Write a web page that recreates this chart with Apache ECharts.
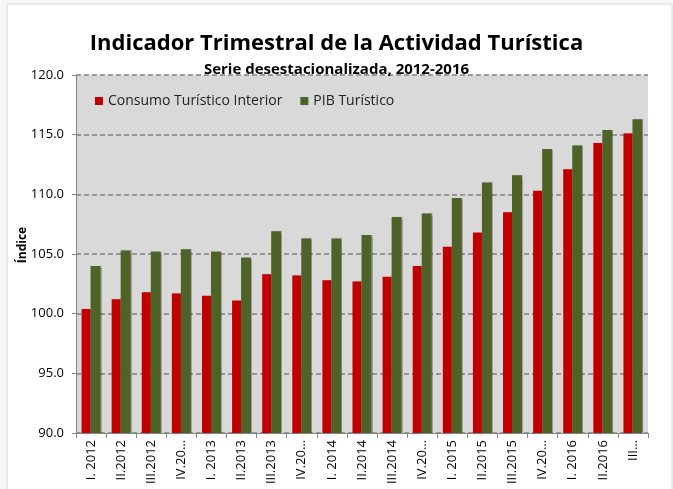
<!DOCTYPE html>
<html>
<head>
<meta charset="utf-8">
<script src="https://cdn.jsdelivr.net/npm/echarts@6/dist/echarts.min.js"></script>
<style>
html,body{margin:0;padding:0;background:#f7f7f7;}
#c{width:673px;height:489px;}
</style>
</head>
<body>
<div id="c"></div>
<script>
const categories = ["I. 2012","II.2012","III.2012","IV.20…","I. 2013","II.2013","III.2013","IV.20…","I. 2014","II.2014","III.2014","IV.20…","I. 2015","II.2015","III.2015","IV.20…","I. 2016","II.2016","III…"];
const consumo = [100.4,101.2,101.8,101.7,101.5,101.1,103.3,103.2,102.8,102.7,103.1,104.0,105.6,106.8,108.5,110.3,112.1,114.3,115.1];
const pib = [104.0,105.3,105.2,105.4,105.2,104.7,106.9,106.3,106.3,106.6,108.1,108.4,109.7,111.0,111.6,113.8,114.1,115.4,116.3];
const yTicks = {min:90, max:120, interval:5};

const FONT = "Open Sans";
const chart = echarts.init(document.getElementById('c'), null, {renderer:'canvas'});
chart.setOption({
  animation:false,
  backgroundColor:'#f7f7f7',
  textStyle:{fontFamily:FONT},
  graphic:[{type:'rect', z:-10, shape:{x:7,y:4,width:665,height:490}, style:{fill:'#ffffff', stroke:'#d9d9d9', lineWidth:1}}],
  title:[
    {text:'Indicador Trimestral de la Actividad Turística', left:'center', top:28,
     textStyle:{fontFamily:FONT, fontWeight:'bold', fontSize:22, color:'#000'}},
    {text:'Serie desestacionalizada, 2012-2016', left:'center', top:57,
     textStyle:{fontFamily:FONT, fontWeight:'bold', fontSize:15, color:'#000'}}
  ],
  legend:{left:90, top:89, itemWidth:8, itemHeight:8, itemGap:18, icon:'rect',
    textStyle:{fontFamily:FONT, fontSize:14, color:'#222'},
    data:['Consumo Turístico Interior','PIB Turístico']},
  grid:{left:76, right:25, top:75, bottom:56, show:true, backgroundColor:'#d9d9d9', borderWidth:0},
  xAxis:{type:'category', data:categories,
    axisLine:{lineStyle:{color:'#868686', width:1}},
    axisTick:{show:true, length:5, lineStyle:{color:'#868686'}},
    axisLabel:{rotate:90, fontSize:13, color:'#000', margin:7, fontFamily:FONT}},
  yAxis:{type:'value', min:yTicks.min, max:yTicks.max, interval:yTicks.interval,
    name:'Índice', nameLocation:'middle', nameGap:47, nameRotate:90, nameMoveOverlap:false,
    nameTextStyle:{fontWeight:'bold', fontSize:12, color:'#000', fontFamily:FONT, padding:[0,0,0,18]},
    axisLine:{show:true, lineStyle:{color:'#868686', width:1}},
    axisTick:{show:true, length:4, lineStyle:{color:'#868686'}},
    axisLabel:{fontSize:13, color:'#000', margin:12, fontFamily:FONT, formatter:v=>v.toFixed(1)},
    splitLine:{lineStyle:{color:'#808080', type:[5,3], width:1.5}}},
  series:[
    {name:'Consumo Turístico Interior', type:'bar', data:consumo, barWidth:9, barGap:'0%',
     itemStyle:{color:'#c00000', shadowColor:'rgba(0,0,0,0.25)', shadowOffsetX:1, shadowOffsetY:0, shadowBlur:1}},
    {name:'PIB Turístico', type:'bar', data:pib, barWidth:10,
     itemStyle:{color:'#4f6228', shadowColor:'rgba(0,0,0,0.25)', shadowOffsetX:1, shadowOffsetY:0, shadowBlur:1}}
  ]
});
</script>
</body>
</html>
